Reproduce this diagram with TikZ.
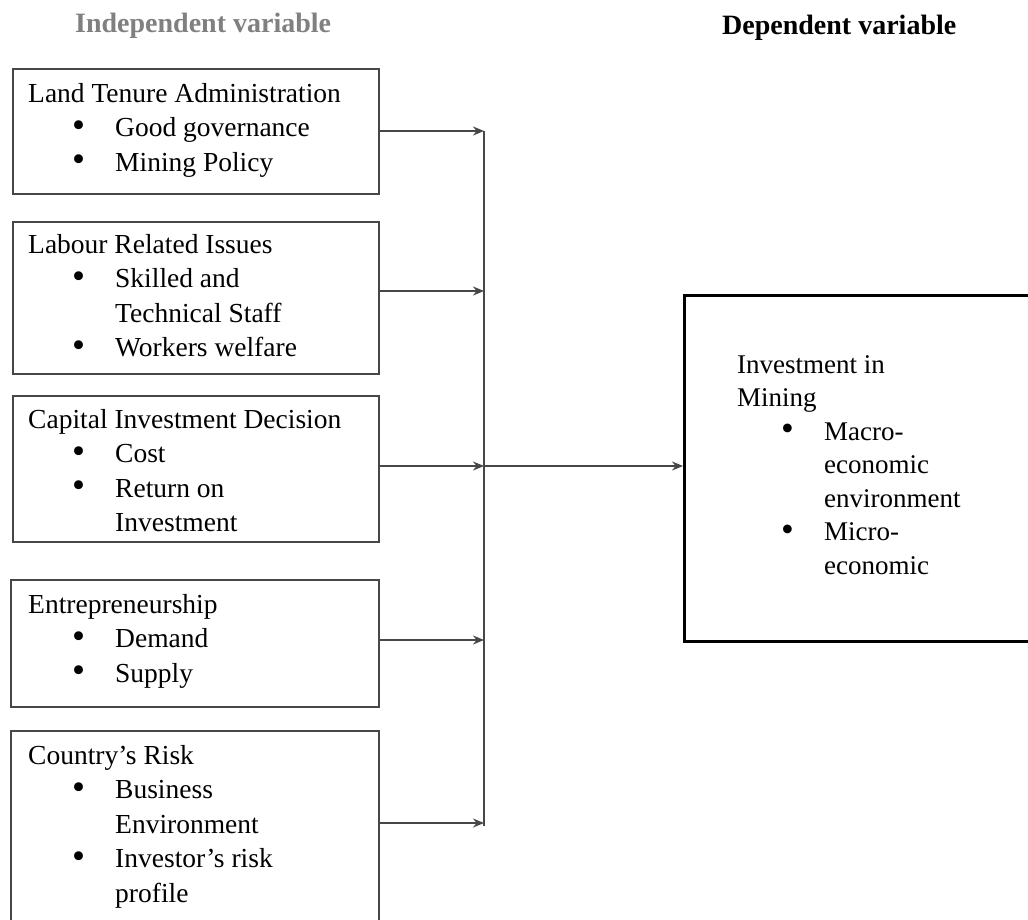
\documentclass[tikz,border=0pt]{standalone}
\usepackage{fontspec}
\setmainfont{Liberation Serif}
\usetikzlibrary{arrows.meta}
\definecolor{boxgray}{gray}{0.28}
\definecolor{headgray}{gray}{0.5}
\newcommand\bdot{\raisebox{-0.5pt}{\scalebox{1.35}{\textbullet}}}
\newcommand\bul[1]{\makebox[87pt][l]{\hspace{44pt}\bdot}#1}
\newcommand\cont[1]{\makebox[87pt][l]{}#1}
\begin{document}
\begin{tikzpicture}[x=1pt,y=-1pt,
  ibox/.style={draw=boxgray, line width=2pt, inner sep=0pt, anchor=north west},
  obox/.style={draw=black, line width=3pt, inner sep=0pt, anchor=north west},
  txt/.style={anchor=north west, inner sep=0pt, align=left, font=\fontsize{27.5}{34.5}\selectfont},
  head/.style={anchor=base west, inner sep=0pt, font=\fontsize{28}{34}\selectfont\bfseries},
  arr/.style={draw=boxgray, line width=2pt, -{Stealth[length=11pt,width=9pt]}},
  bus/.style={draw=boxgray, line width=2pt}]
\useasboundingbox (0,0) rectangle (1028,920);
\clip (0,0) rectangle (1028,920);
% headers
\node[head, text=headgray] (hi) at (75,33) {Independent variable};
\node[head] (hd) at (722,35) {Dependent variable};
% left boxes
\node[ibox, minimum width=366pt, minimum height=125pt] (b1) at (12,68) {};
\node[ibox, minimum width=366pt, minimum height=152pt] (b2) at (12,221) {};
\node[ibox, minimum width=366pt, minimum height=146pt] (b3) at (12,395) {};
\node[ibox, minimum width=368pt, minimum height=127pt] (b4) at (10,579) {};
\node[ibox, minimum width=368pt, minimum height=220pt] (b5) at (10,730) {};
% texts
\node[txt] (t1) at (28,83) {Land Tenure Administration\\\bul{Good governance}\\\bul{Mining Policy}};
\node[txt] (t2) at (28,234) {Labour Related Issues\\\bul{Skilled and}\\\cont{Technical Staff}\\\bul{Workers welfare}};
\node[txt] (t3) at (28,409) {Capital Investment Decision\\\bul{Cost}\\\bul{Return on}\\\cont{Investment}};
\node[txt] (t4) at (28,594) {Entrepreneurship\\\bul{Demand}\\\bul{Supply}};
\node[txt] (t5) at (28,745) {Country’s Risk\\\bul{Business}\\\cont{Environment}\\\bul{Investor’s risk}\\\cont{profile}};
% right box
\node[obox, minimum width=380pt, minimum height=346pt] (R) at (683,294) {};
\node[txt, font=\fontsize{27}{33.5}\selectfont] (tr) at (737,355) {Investment in\\Mining\\\bul{Macro-}\\\cont{economic}\\\cont{environment}\\\bul{Micro-}\\\cont{economic}};
% junction points
\coordinate (j1) at (484,131);
\coordinate (j2) at (484,291);
\coordinate (j3) at (484,466);
\coordinate (j4) at (484,640);
\coordinate (j5) at (484,823);
\coordinate (jbot) at (484,826);
% connectors
\draw[bus] (j1) -- (jbot);
\draw[arr] (b1.east |- j1) -- (j1);
\draw[arr] (b2.east |- j2) -- (j2);
\draw[arr] (b3.east |- j3) -- (j3);
\draw[arr] (b4.east |- j4) -- (j4);
\draw[arr] (b5.east |- j5) -- (j5);
\draw[arr] (j3) -- (R.west |- j3);
\end{tikzpicture}
\end{document}
